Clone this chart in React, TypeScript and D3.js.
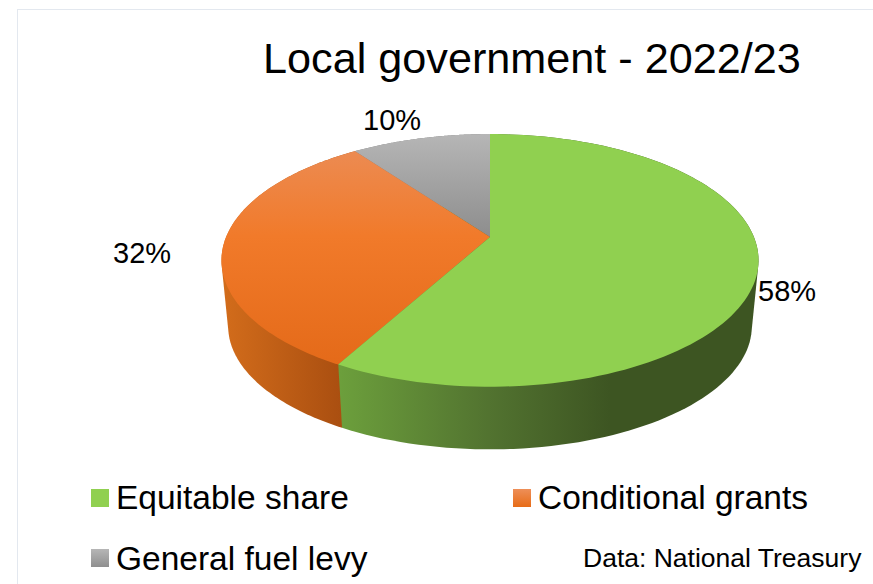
import React from "react";
import * as d3 from "d3";

// Budget split shown as a tilted 3D pie.
const categories = ["Equitable share", "Conditional grants", "General fuel levy"];
const shares = [58, 32, 10];
const titleText = "Local government - 2022/23";
const sourceText = "Data: National Treasury";

const FONT = "'Liberation Sans', Arial, sans-serif";
const WIDTH = 873;
const HEIGHT = 584;

// Perspective disc: the pie centre sits above the middle of the projected ellipse.
const apex = { x: 490, y: 237 };
const semiX = 263.9;
const semiY = 122;
const tilt = 0.185;
const discMidY = 260.35;
const baseScale = 0.975;
const baseMidY = 326.2;

const rim = (theta: number): [number, number] => {
  const u = Math.sin(theta);
  const v = -Math.cos(theta);
  const w = 1 / (1 - tilt * v);
  return [apex.x + semiX * u * w, apex.y + semiY * v * w];
};
const baseRim = (theta: number): [number, number] => {
  const [x, y] = rim(theta);
  return [apex.x + (x - apex.x) * baseScale, baseMidY + (y - discMidY) * baseScale];
};
const arcSamples = (a: number, b: number, f: (t: number) => [number, number]) =>
  d3.range(0, 121).map((i) => f(a + ((b - a) * i) / 120));

const line = d3.line();
const arcs = d3.pie<number>().sort(null)(shares);
const topPath = (a: number, b: number) =>
  line([[apex.x, apex.y], ...arcSamples(a, b, rim)])! + "Z";
// A wall is the hull of its two rims; the top face hides whatever falls behind it.
const wallPath = (a: number, b: number) =>
  line(d3.polygonHull([...arcSamples(a, b, rim), ...arcSamples(a, b, baseRim)])!)! + "Z";

const topFills = ["#90d050", "url(#orangeTop)", "url(#greyTop)"];
const wallFills = ["url(#greenWall)", "url(#orangeWall)", "#7d7d7d"];
const swatchFills = ["#90d050", "url(#orangeSwatch)", "url(#greySwatch)"];
const labelSpots: [number, number][] = [
  [758, 301],
  [113, 263],
  [363, 130],
];
const legendSpots: [number, number, number][] = [
  [91, 116, 509],
  [513, 538, 509],
  [91, 116, 570],
];

export default function App() {
  const drawOrder = [2, 1, 0];
  return (
    <svg
      width={WIDTH}
      height={HEIGHT}
      viewBox={`0 0 ${WIDTH} ${HEIGHT}`}
      style={{ position: "absolute", left: 0, top: 0, background: "#fff" }}
    >
      <defs>
        <linearGradient id="orangeTop" gradientUnits="userSpaceOnUse" x1="0" y1="150" x2="0" y2="366">
          <stop offset="0" stopColor="#ec8b52" />
          <stop offset="0.4" stopColor="#f17a2a" />
          <stop offset="1" stopColor="#e46a19" />
        </linearGradient>
        <linearGradient id="greyTop" gradientUnits="userSpaceOnUse" x1="0" y1="134" x2="0" y2="237">
          <stop offset="0" stopColor="#b6b6b6" />
          <stop offset="1" stopColor="#8d8d8d" />
        </linearGradient>
        <linearGradient id="greenWall" gradientUnits="userSpaceOnUse" x1="340" y1="0" x2="610" y2="0">
          <stop offset="0" stopColor="#6c9f3c" />
          <stop offset="0.55" stopColor="#527330" />
          <stop offset="1" stopColor="#3d5522" />
        </linearGradient>
        <linearGradient id="orangeWall" gradientUnits="userSpaceOnUse" x1="224" y1="0" x2="344" y2="0">
          <stop offset="0" stopColor="#d26c1b" />
          <stop offset="1" stopColor="#a94e10" />
        </linearGradient>
        <linearGradient id="orangeSwatch" x1="0" y1="0" x2="0" y2="1">
          <stop offset="0" stopColor="#ee8f58" />
          <stop offset="1" stopColor="#e76c17" />
        </linearGradient>
        <linearGradient id="greySwatch" x1="0" y1="0" x2="0" y2="1">
          <stop offset="0" stopColor="#b6b6b6" />
          <stop offset="1" stopColor="#8f8f8f" />
        </linearGradient>
      </defs>

      {/* chart frame, running past the page edges */}
      <rect x={17.5} y={9.5} width={WIDTH} height={HEIGHT} fill="#fff" stroke="#e3e8ef" strokeWidth={1} />

      <text x={263} y={72.5} fontFamily={FONT} fontSize={43.2} fill="#000">
        {titleText}
      </text>

      {drawOrder.map((i) => (
        <path key={`wall-${i}`} d={wallPath(arcs[i].startAngle, arcs[i].endAngle)} fill={wallFills[i]} />
      ))}
      {drawOrder.map((i) => (
        <path key={`top-${i}`} d={topPath(arcs[i].startAngle, arcs[i].endAngle)} fill={topFills[i]} />
      ))}

      {shares.map((v, i) => (
        <text key={`label-${i}`} x={labelSpots[i][0]} y={labelSpots[i][1]} fontFamily={FONT} fontSize={29} fill="#000">
          {`${v}%`}
        </text>
      ))}

      {categories.map((c, i) => (
        <g key={c}>
          <rect x={legendSpots[i][0]} y={legendSpots[i][2] - 20 - (i === 2 ? 1 : 0)} width={18} height={18} fill={swatchFills[i]} />
          <text x={legendSpots[i][1]} y={legendSpots[i][2]} fontFamily={FONT} fontSize={33.5} fill="#000">
            {c}
          </text>
        </g>
      ))}

      <text x={583} y={566.5} fontFamily={FONT} fontSize={26.5} fill="#000">
        {sourceText}
      </text>
    </svg>
  );
}
